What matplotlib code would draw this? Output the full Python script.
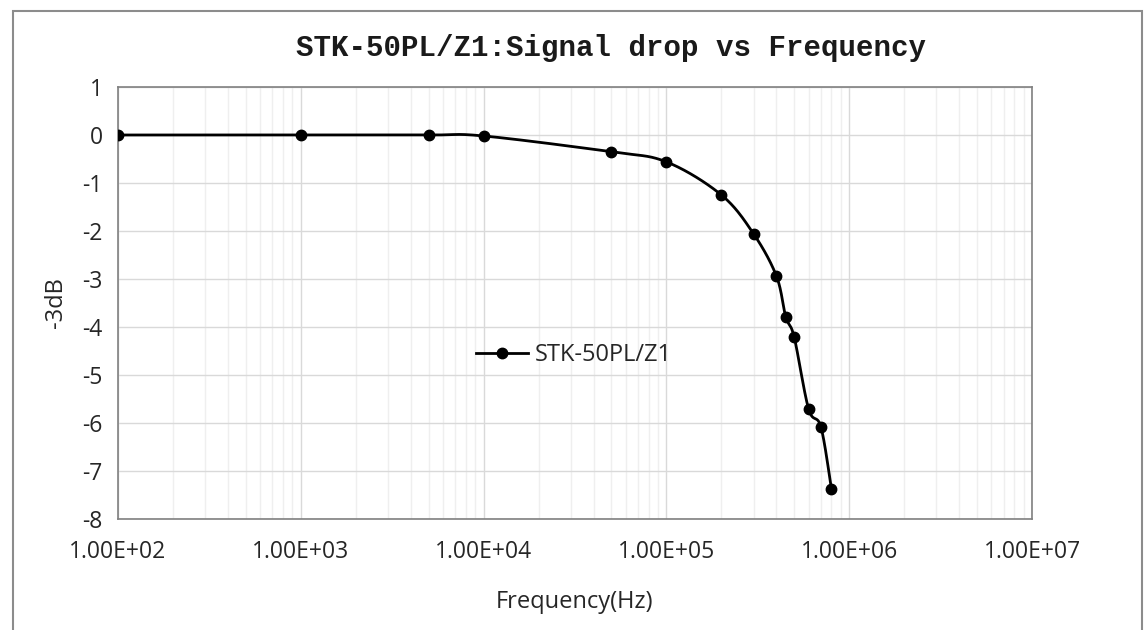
import numpy as np
import matplotlib.pyplot as plt
from matplotlib.patches import Rectangle

freq_hz = [1e2, 1e3, 5e3, 1e4, 5e4, 1e5, 2e5, 3e5, 4e5, 4.5e5, 5e5, 6e5, 7e5, 8e5]
drop_db = [0.0, 0.0, 0.0, -0.02, -0.35, -0.56, -1.25, -2.06, -2.94, -3.79,
           -4.21, -5.71, -6.08, -7.38]
series_name = 'STK-50PL/Z1'
y_ticks = [1, 0, -1, -2, -3, -4, -5, -6, -7, -8]
x_ticks = [1e2, 1e3, 1e4, 1e5, 1e6, 1e7]
x_ticklabels = ['1.00E+02', '1.00E+03', '1.00E+04', '1.00E+05', '1.00E+06', '1.00E+07']


def smooth(xs, ys, n=30):
    # Excel-like smoothed line: Catmull-Rom bezier through the points (log-x space)
    lx = np.log10(xs)
    ys = np.asarray(ys, float)
    px, py = [], []
    for i in range(len(lx) - 1):
        p0 = (lx[max(i - 1, 0)], ys[max(i - 1, 0)])
        p1 = (lx[i], ys[i])
        p2 = (lx[i + 1], ys[i + 1])
        p3 = (lx[min(i + 2, len(lx) - 1)], ys[min(i + 2, len(lx) - 1)])
        c1 = (p1[0] + (p2[0] - p0[0]) / 6, p1[1] + (p2[1] - p0[1]) / 6)
        c2 = (p2[0] - (p3[0] - p1[0]) / 6, p2[1] - (p3[1] - p1[1]) / 6)
        t = np.linspace(0, 1, n)
        for k in range(2):
            pts = [p1[k], c1[k], c2[k], p2[k]]
            v = ((1 - t) ** 3 * pts[0] + 3 * (1 - t) ** 2 * t * pts[1]
                 + 3 * (1 - t) * t ** 2 * pts[2] + t ** 3 * pts[3])
            (px if k == 0 else py).extend(v)
    return 10 ** np.array(px), np.array(py)


plt.rcParams['font.family'] = ['Open Sans', 'DejaVu Sans']
plt.rcParams['axes.unicode_minus'] = False
fig = plt.figure(figsize=(11.45, 6.3), dpi=100)
ax = fig.add_axes([118 / 1145, 1 - 519 / 630, (1032 - 118) / 1145, (519 - 87) / 630])

# outer chart frame
fig.patches.append(Rectangle((13 / 1145, -0.05), (1142 - 13) / 1145, 1.05 - 11 / 630,
                             transform=fig.transFigure, fill=False,
                             edgecolor='#8c8c8c', linewidth=1.5))

sx, sy = smooth(freq_hz, drop_db)
ax.plot(sx, sy, color='black', linewidth=2, zorder=3)
ax.plot(freq_hz, drop_db, linestyle='none', marker='o', markersize=7.5,
        color='black', zorder=4)
ax.plot([], [], color='black', linewidth=2, marker='o', markersize=7.5, label=series_name)

ax.set_xscale('log')
ax.set_xlim(1e2, 1e7)
ax.set_ylim(-8, 1)
ax.set_yticks(y_ticks)
ax.set_xticks(x_ticks)
ax.set_xticklabels(x_ticklabels)
ax.grid(which='major', color='#d9d9d9', linewidth=1)
ax.grid(which='minor', axis='x', color='#efefef', linewidth=1)
ax.tick_params(which='both', length=0, labelsize=16.5, labelcolor='#262626')
ax.tick_params(axis='x', pad=15)
ax.tick_params(axis='y', pad=11)
for s in ax.spines.values():
    s.set_color('#808080')
    s.set_linewidth(1.2)

fig.text(611 / 1145, 1 - 48 / 630, 'STK-50PL/Z1:Signal drop vs Frequency',
         family='Liberation Mono', fontsize=21, fontweight='bold', color='#1a1a1a',
         ha='center', va='center')
ax.set_xlabel('Frequency(Hz)', fontsize=17, color='#262626', labelpad=19)
ax.set_ylabel('-3dB', fontsize=17, color='#262626', labelpad=10)

ax.legend(loc='center', bbox_to_anchor=((574 - 118) / 914, (519 - 355) / 432),
          frameon=False, fontsize=17, handlelength=2.2, handletextpad=0.3,
          labelcolor='#262626')

plt.savefig('out.png', dpi=100)
